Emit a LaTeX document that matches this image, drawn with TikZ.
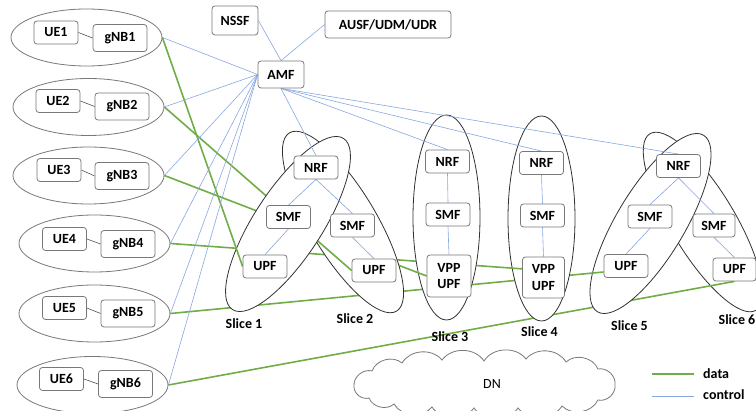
\documentclass[tikz,border=0pt]{standalone}
\usepackage{fontspec}
\setmainfont{Carlito}
\usetikzlibrary{shapes.geometric}
\definecolor{ctrlblue}{RGB}{134,167,223}
\definecolor{datagreen}{RGB}{112,173,71}
\definecolor{boxgray}{RGB}{120,120,120}
\definecolor{slicegray}{RGB}{50,50,50}
\definecolor{linkgray}{RGB}{80,80,80}
\pgfdeclarelayer{ctrl}
\pgfdeclarelayer{front}
\pgfsetlayers{main,ctrl,front}
\begin{document}
\begin{tikzpicture}[x=1pt,y=-1pt,
  box/.style={draw=boxgray, line width=0.8pt, rounded corners=3pt, fill=white, font=\fontsize{14}{16.5}\selectfont\bfseries, inner sep=0pt, minimum width=44pt, minimum height=23pt},
  gnb/.style={box, minimum width=54pt, minimum height=27pt},
  grp/.style={ellipse, draw=boxgray, line width=0.8pt, inner sep=0pt, minimum width=151pt, minimum height=57pt},
  slice/.style={ellipse, draw=slicegray, line width=0.8pt, fill=white, inner sep=0pt},
  lbl/.style={font=\fontsize{14}{16}\selectfont\bfseries, inner sep=0pt},
  ctrl/.style={draw=ctrlblue, line width=0.6pt},
  dat/.style={draw=datagreen, line width=1.6pt},
  link/.style={draw=linkgray, line width=0.6pt},
  puff/.style={bend left=55}
]
\useasboundingbox (0,0) rectangle (756,411);

\begin{pgfonlayer}{front}
% UE groups
\node[grp] (e1) at (86.5,37.5) {};
\node[grp] (e2) at (88.5,107) {};
\node[grp] (e3) at (88.5,175.5) {};
\node[grp] (e4) at (94.5,243.5) {};
\node[grp] (e5) at (94.5,313.5) {};
\node[grp] (e6) at (92.5,385) {};
\node[box] (ue1) at (56,32.5) {UE1};
\node[gnb] (gnb1) at (120,38) {gNB1};
\node[box] (ue2) at (58,101) {UE2};
\node[gnb] (gnb2) at (122,106.5) {gNB2};
\node[box] (ue3) at (59,170) {UE3};
\node[gnb] (gnb3) at (122,176) {gNB3};
\node[box] (ue4) at (64.5,239) {UE4};
\node[gnb] (gnb4) at (128,244) {gNB4};
\node[box] (ue5) at (64.5,308) {UE5};
\node[gnb] (gnb5) at (128,313.5) {gNB5};
\node[box] (ue6) at (61.5,379) {UE6};
\node[gnb] (gnb6) at (125.5,384) {gNB6};
\foreach \k in {1,...,6} \draw[link] (ue\k.east) -- (gnb\k.west);
% core
\node[box, minimum width=46pt, minimum height=29pt] (nssf) at (235,20.5) {NSSF};
\node[box, minimum width=126pt, minimum height=27pt] (ausf) at (388,24.5) {AUSF/UDM/UDR};
\node[box, minimum width=46pt, minimum height=27pt] (amf) at (281,74.5) {AMF};
% slices
\node[box] (nrf1) at (316,167.5) {NRF};
\node[box] (smf1) at (288.5,217) {SMF};
\node[box] (upf1) at (265,266.5) {UPF};
\node[box] (smf2) at (352.5,225.5) {SMF};
\node[box] (upf2) at (374,270.5) {UPF};
\node[box] (nrf3) at (447.5,161.5) {NRF};
\node[box] (smf3) at (448,214.5) {SMF};
\node[box, minimum height=42pt, align=center] (vu3) at (449,276) {VPP\\UPF};
\node[box] (nrf4) at (541.5,163) {NRF};
\node[box] (smf4) at (542.5,215.5) {SMF};
\node[box, minimum width=42pt, minimum height=41pt, align=center] (vu4) at (543.5,277.5) {VPP\\UPF};
\node[box] (nrf5) at (678.5,166) {NRF};
\node[box] (smf5) at (650,216.5) {SMF};
\node[box] (upf5) at (626,266) {UPF};
\node[box, minimum width=42pt] (smf6) at (714,225.5) {SMF};
\node[box, minimum width=43pt] (upf6) at (734.5,269.5) {UPF};
% labels
\node[lbl] (l1) at (244,324) {Slice 1};
\node[lbl] (l2) at (355,319) {Slice 2};
\node[lbl] (l3) at (450,337) {Slice 3};
\node[lbl] (l4) at (539.5,331.5) {Slice 4};
\node[lbl] (l5) at (629.5,326) {Slice 5};
\node[lbl] (l6) at (737,320) {Slice 6};
% DN cloud
\draw[draw=boxgray, line width=0.8pt, fill=white]
  (354,386) to[puff] (372,371) to[puff] (402,363) to[puff] (442,360)
  to[puff] (484,361) to[puff] (526,359) to[puff] (566,362) to[puff] (598,369)
  to[puff] (615,385) to[puff] (598,400) to[puff] (562,406) to[puff] (518,408)
  to[puff] (474,408) to[puff] (432,407) to[puff] (394,404) to[puff] (369,398)
  to[puff] cycle;
\node[font=\fontsize{14}{16}\selectfont, inner sep=0pt] (dn) at (492,384) {DN};
% legend
\coordinate (d1) at (652,374);
\coordinate (d2) at (694,374);
\coordinate (c1) at (652,396);
\coordinate (c2) at (694,396);
\draw[dat] (d1) -- (d2);
\draw[ctrl] (c1) -- (c2);
\node[lbl, anchor=west] (ldata) at (703,374) {data};
\node[lbl, anchor=west] (lctrl) at (703,395) {control};
\end{pgfonlayer}

% slices and data paths in z-order
\node[slice, minimum width=206pt, minimum height=64pt, rotate=-59] (s6) at (703,222) {};
\draw[dat] (e6.east) -- (upf6.south);
\node[slice, minimum width=206pt, minimum height=68pt, rotate=59] (s5) at (650.5,223.5) {};
\draw[dat] (e5.east) -- (upf5.195);
\node[slice, minimum width=67pt, minimum height=205pt] (s4) at (541.5,218.5) {};
\draw[dat] (e4.east) -- (vu4.158);
\node[slice, minimum width=67pt, minimum height=205pt] (s3) at (446.5,217.5) {};
\draw[dat] (e3.east) -- (vu3.west);
\node[slice, minimum width=208pt, minimum height=66pt, rotate=-59] (s2) at (343,222) {};
\draw[dat] (e2.east) -- (upf2.west);
\node[slice, minimum width=204pt, minimum height=68pt, rotate=57] (s1) at (288,224) {};
\draw[dat] (e1.east) -- (upf1.west);

\begin{pgfonlayer}{ctrl}
\foreach \k in {1,...,6} \draw[ctrl] (amf.west) -- (e\k.east);
\draw[ctrl] (amf.north) -- (nssf.east);
\draw[ctrl] (amf.north) -- (ausf.west);
\foreach \n in {nrf1,nrf3,nrf4,nrf5} \draw[ctrl] (amf.south) -- (\n.north);
\draw[ctrl] (nrf1.south) -- (smf1.north);
\draw[ctrl] (nrf1.south) -- (smf2.north);
\draw[ctrl] (smf1.south) -- (upf1.north);
\draw[ctrl] (smf2.south) -- (upf2.north);
\draw[ctrl] (nrf3.south) -- (smf3.north);
\draw[ctrl] (smf3.south) -- (vu3.north);
\draw[ctrl] (nrf4.south) -- (smf4.north);
\draw[ctrl] (smf4.south) -- (vu4.north);
\draw[ctrl] (nrf5.south) -- (smf5.north);
\draw[ctrl] (nrf5.south) -- (smf6.north);
\draw[ctrl] (smf5.south) -- (upf5.north);
\draw[ctrl] (smf6.south) -- (upf6.north);
\end{pgfonlayer}
\end{tikzpicture}
\end{document}
